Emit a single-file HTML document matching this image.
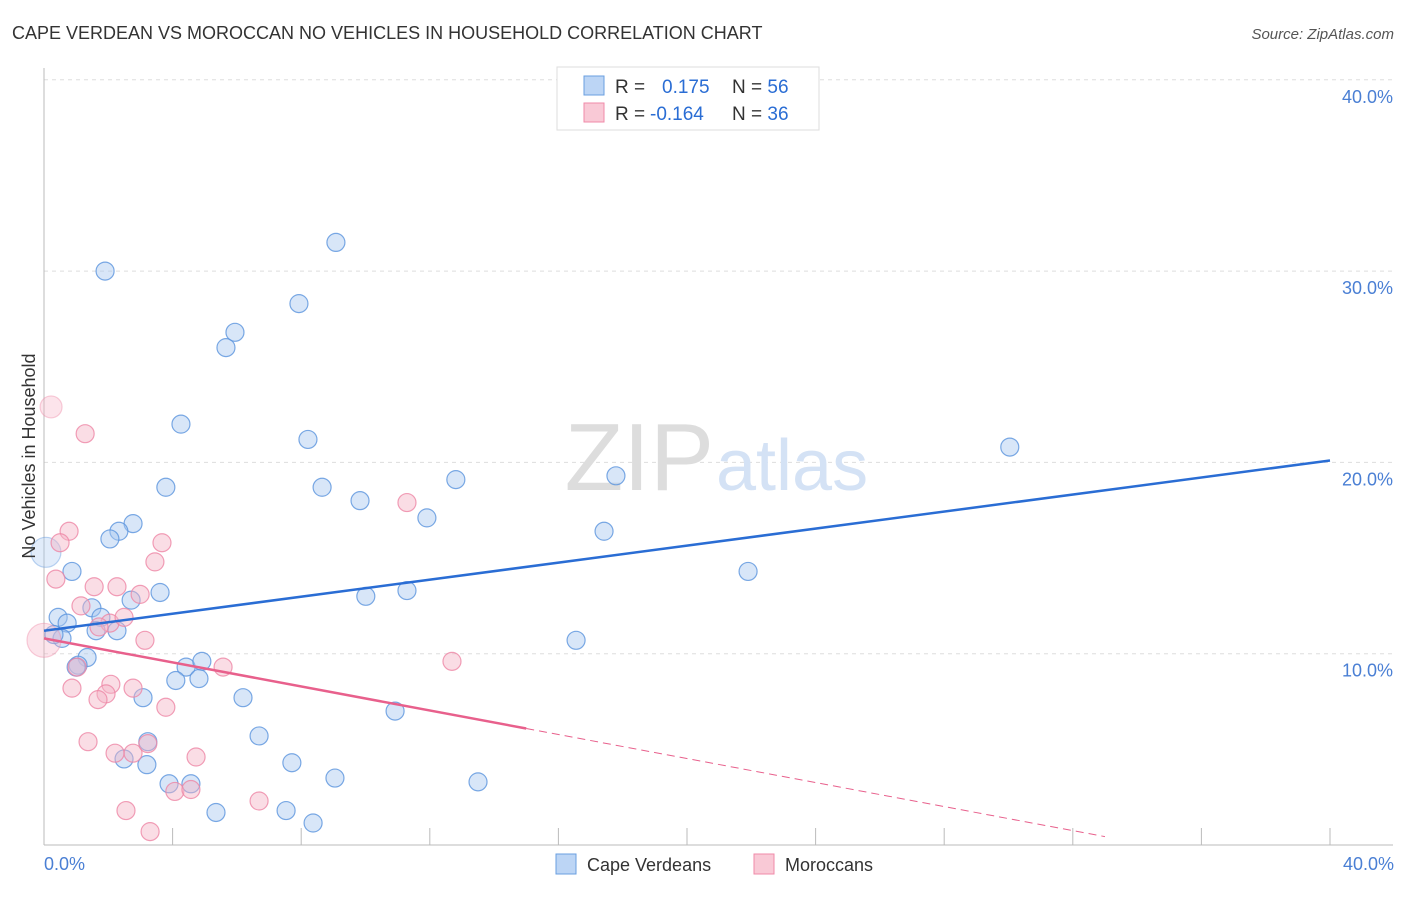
<!DOCTYPE html>
<html><head><meta charset="utf-8"><style>
body{margin:0;background:#fff;font-family:"Liberation Sans",sans-serif;}
svg text{font-family:"Liberation Sans",sans-serif;}
</style></head><body>
<svg width="1406" height="892" id="chart">
<text x="12" y="39" font-size="18" fill="#333">CAPE VERDEAN VS MOROCCAN NO VEHICLES IN HOUSEHOLD CORRELATION CHART</text>
<text x="1394" y="39" font-size="15" fill="#555" text-anchor="end" font-style="italic">Source: ZipAtlas.com</text>
<g id="grid"></g>
<text x="714" y="490" font-size="96" fill="#ddd" text-anchor="end" font-family="Liberation Serif">ZIP</text>
<text x="716" y="490" font-size="72" fill="#d4e2f5">atlas</text>
<line x1="44" y1="68" x2="44" y2="845" stroke="#bbb"/>
<line x1="44" y1="845" x2="1393" y2="845" stroke="#bbb"/>
<g id="ticks"></g>
<g id="pts"></g>
<g id="lines"></g>
<text x="35" y="456" font-size="18" fill="#333" text-anchor="middle" transform="rotate(-90 35 456)">No Vehicles in Household</text>
<text x="44" y="870" font-size="18" fill="#4a7fd4">0.0%</text>
<text x="1394" y="870" font-size="18" fill="#4a7fd4" text-anchor="end">40.0%</text>
<g>
<rect x="557" y="67" width="262" height="63" fill="#fff" stroke="#ddd"/>
<rect x="584" y="76" width="20" height="19" fill="#bcd5f5" stroke="#6a9fe0"/>
<rect x="584" y="103" width="20" height="19" fill="#f9c9d6" stroke="#f08aa8"/>
<text x="615" y="93" font-size="19" fill="#333">R = <tspan fill="#2a6dd4" x="662">0.175</tspan><tspan fill="#333" x="732">N = </tspan><tspan fill="#2a6dd4">56</tspan></text>
<text x="615" y="120" font-size="19" fill="#333">R = <tspan fill="#2a6dd4" x="650">-0.164</tspan><tspan fill="#333" x="732">N = </tspan><tspan fill="#2a6dd4">36</tspan></text>
</g>
<g>
<rect x="556" y="854" width="20" height="20" fill="#bcd5f5" stroke="#6a9fe0"/>
<text x="587" y="871" font-size="18" fill="#333">Cape Verdeans</text>
<rect x="754" y="854" width="20" height="20" fill="#f9c9d6" stroke="#f08aa8"/>
<text x="785" y="871" font-size="18" fill="#333">Moroccans</text>
</g>
</svg>
<script>
const yTicks=[10,20,30,40];
const xTicks=[4,8,12,16,20,24,28,32,36,40];
const blueX=[1.90,9.08,7.93,5.94,5.66,4.26,8.21,3.79,8.65,9.83,12.81,17.79,30.04,11.91,17.42,2.77,2.33,2.05,0.87,3.61,2.71,10.01,11.29,21.9,1.49,0.44,0.72,1.77,1.62,2.27,0.56,0.31,1.34,1.06,1.0,4.42,4.91,4.1,4.82,3.08,6.19,10.92,16.55,6.69,3.23,2.49,3.2,7.71,9.05,13.5,3.89,4.57,5.35,7.53,8.37,0.06];
const blueY=[30.0,31.5,28.3,26.8,26.0,22.0,21.2,18.7,18.7,18.0,19.1,19.3,20.8,17.1,16.4,16.8,16.4,16.0,14.3,13.2,12.8,13.0,13.3,14.3,12.4,11.9,11.6,11.9,11.2,11.2,10.8,11.0,9.8,9.4,9.3,9.3,9.6,8.6,8.7,7.7,7.7,7.0,10.7,5.7,5.4,4.5,4.2,4.3,3.5,3.3,3.2,3.2,1.7,1.8,1.15,15.3];
const pinkX=[0.22,1.28,11.29,0.78,0.5,3.67,3.45,0.37,1.56,2.27,2.99,1.15,2.05,2.49,1.71,3.14,5.57,12.69,1.03,0.87,2.08,1.93,1.68,2.77,3.79,1.37,2.21,2.77,3.23,4.73,4.07,4.57,6.69,2.55,3.3,0];
const pinkY=[22.9,21.5,17.9,16.4,15.8,15.8,14.8,13.9,13.5,13.5,13.1,12.5,11.6,11.9,11.4,10.7,9.3,9.6,9.3,8.2,8.4,7.9,7.6,8.2,7.2,5.4,4.8,4.8,5.3,4.6,2.8,2.9,2.3,1.8,0.7,10.7];
const blueLine=[11.2,20.1];   // y at x=0 and x=40
const pinkLine=[10.8,-0.314]; // intercept, slope
const pinkSolidEnd=15.0, pinkDashEnd=33;
const X=v=>44+v/40*1286, Y=v=>845-v*19.13;
const NS='http://www.w3.org/2000/svg';
function mk(t,a,p){const e=document.createElementNS(NS,t);for(const k in a)e.setAttribute(k,a[k]);document.getElementById(p).appendChild(e);return e;}
yTicks.forEach(t=>{
 const l=mk('line',{x1:44,x2:1393,y1:Y(t),y2:Y(t),stroke:'#ddd','stroke-dasharray':'4,4'},'grid');
 
 
 const tx=mk('text',{x:1393,y:Y(t)+23,'font-size':18,fill:'#4a7fd4','text-anchor':'end'},'grid');tx.textContent=t.toFixed(1)+'%';
 
 
});
xTicks.forEach(t=>{
 const l=mk('line',{x1:X(t),x2:X(t),y1:828,y2:845,stroke:'#bbb'},'ticks');
 
 
});
function pt(x,y,big,c){
 const r=big?(y>20?11:(y>14?15:17)):9;
 const e=mk('circle',{cx:X(x),cy:Y(y),r:r,fill:c[0],'fill-opacity':big?0.35:0.45,stroke:c[1],'stroke-opacity':big?0.4:0.8,'stroke-width':1.2},'pts');
 return e;
}
blueX.forEach((x,i)=>{const e=pt(x,blueY[i],i==blueX.length-1,['#a9c8f0','#5a93dd']);
 
 });
pinkX.forEach((x,i)=>{const e=pt(x,pinkY[i],i==0||i==pinkX.length-1,['#f5b3c6','#ee86a5']);
 
 });
let l=mk('line',{x1:X(0),y1:Y(blueLine[0]),x2:X(40),y2:Y(blueLine[1]),stroke:'#2a6dd4','stroke-width':2.5},'lines');


l=mk('line',{x1:X(0),y1:Y(pinkLine[0]),x2:X(pinkSolidEnd),y2:Y(pinkLine[0]+pinkLine[1]*pinkSolidEnd),stroke:'#e8608c','stroke-width':2.5},'lines');


l=mk('line',{x1:X(pinkSolidEnd),y1:Y(pinkLine[0]+pinkLine[1]*pinkSolidEnd),x2:X(pinkDashEnd),y2:Y(pinkLine[0]+pinkLine[1]*pinkDashEnd),stroke:'#e8608c','stroke-width':1,'stroke-dasharray':'8,5'},'lines');


</script>
</body></html>
